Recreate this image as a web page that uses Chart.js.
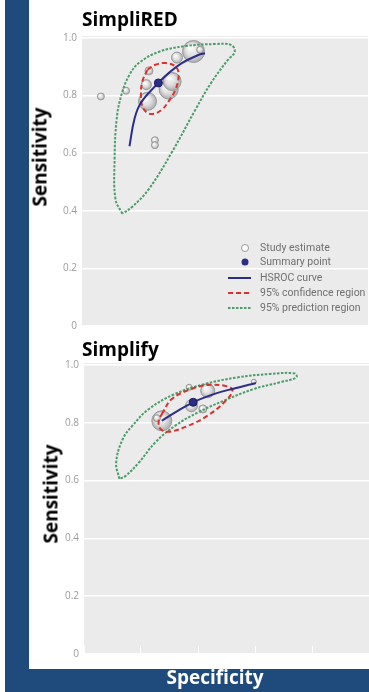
<!DOCTYPE html>
<html>
<head>
<meta charset="utf-8">
<script src="https://cdn.jsdelivr.net/npm/chart.js@4.4.1/dist/chart.umd.min.js"></script>
<style>
html,body{margin:0;padding:0;background:#fff;width:369px;height:692px;overflow:hidden;position:relative;font-family:"Open Sans",sans-serif}
.blue{position:absolute;background:#1f4a7c}
.lbl{position:absolute;font-weight:bold;font-size:19px;line-height:19px;white-space:nowrap;color:#000}
.rot{transform:translate(-50%,-50%) rotate(-90deg)}
canvas{position:absolute}
</style>
</head>
<body>
<div class="blue" style="left:5px;top:0;width:24px;height:692px"></div>
<div class="blue" style="left:5px;top:669px;width:364px;height:23px"></div>
<canvas id="topChart" width="351" height="338" style="left:29px;top:0"></canvas>
<canvas id="bottomChart" width="351" height="335" style="left:29px;top:330px"></canvas>
<div class="lbl" style="left:82px;top:10px">SimpliRED</div>
<div class="lbl" style="left:82px;top:340px">Simplify</div>
<div class="lbl rot" style="left:39.5px;top:156.5px">Sensitivity</div>
<div class="lbl rot" style="left:50.5px;top:494px">Sensitivity</div>
<div class="lbl" style="left:215px;top:668px;color:#fff;transform:translateX(-50%)">Specificity</div>
<script>
// SimpliRED - study estimates (specificity, sensitivity, weight)
const redStudySpec=[0.934,0.846,0.766,0.775,0.771,0.745,0.745,0.697,0.685,0.668,0.610,0.587];
const redStudySens=[0.797,0.817,0.886,0.838,0.780,0.645,0.628,0.821,0.849,0.932,0.953,0.959];
const redStudyWeight=[3.5,3.5,4,5,9,3.5,3.5,9.5,9,5.5,11,3.5];
const redSummary=[0.733,0.844];
const redCurveSpec=[0.834,0.817,0.794,0.733,0.697,0.651,0.593,0.570];
const redCurveSens=[0.624,0.717,0.775,0.844,0.878,0.913,0.941,0.947];
const redConfSpec=[0.771,0.743,0.708,0.673,0.662,0.673,0.697,0.720,0.748,0.771,0.789,0.794,0.789];
const redConfSens=[0.890,0.907,0.913,0.901,0.872,0.821,0.780,0.752,0.737,0.740,0.763,0.803,0.849];
const redPredSpec=[0.859,0.883,0.886,0.879,0.862,0.834,0.800,0.731,0.638,0.534,0.479,0.466,0.490,0.548,0.603,0.686,0.766,0.824];
const redPredSens=[0.390,0.441,0.579,0.717,0.803,0.872,0.914,0.952,0.972,0.979,0.976,0.952,0.924,0.845,0.752,0.603,0.476,0.414];

// Simplify
const fyStudySpec=[0.727,0.744,0.631,0.566,0.623,0.583,0.404];
const fyStudySens=[0.807,0.816,0.923,0.911,0.859,0.848,0.942];
const fyStudyWeight=[10,3.5,3,7,6,4,2.5];
const fySummary=[0.617,0.871];
const fyCurveSpec=[0.727,0.680,0.617,0.542,0.473,0.397];
const fyCurveSens=[0.807,0.836,0.871,0.900,0.919,0.938];
const fyConfSpec=[0.727,0.692,0.623,0.566,0.497,0.479,0.508,0.566,0.634,0.703,0.732,0.738];
const fyConfSens=[0.830,0.882,0.917,0.931,0.926,0.911,0.871,0.825,0.790,0.769,0.779,0.807];
const fyPredSpec=[0.876,0.887,0.864,0.830,0.772,0.680,0.577,0.462,0.347,0.261,0.255,0.313,0.404,0.508,0.600,0.680,0.749,0.807,0.853];
const fyPredSens=[0.606,0.663,0.744,0.790,0.848,0.900,0.934,0.957,0.969,0.971,0.957,0.940,0.917,0.877,0.836,0.790,0.733,0.663,0.617];

const yTicks=[0,0.2,0.4,0.6,0.8,1];
const legendLabels=["Study estimate","Summary point","HSROC curve","95% confidence region","95% prediction region"];

const NAVY="#2b2d86",RED="#d8312e",GREEN="#4a9c68";

const pts=(xs,ys)=>xs.map((x,i)=>({x:x,y:ys[i]}));
const loop=(xs,ys)=>{const p=pts(xs,ys);p.push(p[0]);return p;};

function ball(c){
  const ch=c.chart;
  if(c.type!=="data"||!c.raw||!ch.scales.x) return "rgba(220,220,220,0.85)";
  const x=ch.scales.x.getPixelForValue(c.raw.x),y=ch.scales.y.getPixelForValue(c.raw.y),r=c.raw.r||4;
  if(!isFinite(x)||!isFinite(y)) return "rgba(220,220,220,0.85)";
  const g=ch.ctx.createRadialGradient(x-r*0.35,y-r*0.4,r*0.05,x,y,r);
  g.addColorStop(0,"rgba(255,255,255,0.95)");
  g.addColorStop(0.55,"rgba(222,222,222,0.88)");
  g.addColorStop(1,"rgba(165,165,165,0.9)");
  return g;
}

const plotBg={id:"plotBg",beforeDraw(chart){
  const {ctx,chartArea:a}=chart;
  ctx.save();ctx.fillStyle="#ebebeb";ctx.fillRect(a.left,a.top-2,a.right-a.left,a.bottom-a.top+2);ctx.restore();
}};

const boxLegend={id:"boxLegend",afterDatasetsDraw(chart){
  if(!chart.options.plugins.boxLegend.show) return;
  const {ctx,chartArea:a}=chart;
  const rows=[210,224,240,255,270].map(v=>a.top+v);
  const mx=a.left+163,lx0=a.left+146,lx1=a.left+169,tx=a.left+178;
  ctx.save();
  // study marker
  ctx.beginPath();ctx.arc(mx,rows[0],3.5,0,Math.PI*2);ctx.fillStyle="#fff";ctx.fill();ctx.strokeStyle="#999";ctx.lineWidth=1;ctx.stroke();
  // summary marker
  ctx.beginPath();ctx.arc(mx,rows[1],3.5,0,Math.PI*2);ctx.fillStyle=NAVY;ctx.fill();
  const seg=(y,col,dash)=>{ctx.beginPath();ctx.setLineDash(dash);ctx.strokeStyle=col;ctx.lineWidth=2;ctx.moveTo(lx0,y);ctx.lineTo(lx1,y);ctx.stroke();};
  seg(rows[2],NAVY,[]);
  seg(rows[3],RED,[5,3]);
  seg(rows[4],GREEN,[2.5,1.5]);
  ctx.setLineDash([]);
  ctx.fillStyle="#707070";ctx.font="10.5px Roboto";ctx.textBaseline="middle";ctx.textAlign="left";
  legendLabels.forEach((t,i)=>ctx.fillText(t,tx,rows[i]));
  ctx.restore();
}};

function makeChart(id,d,lay){
  return new Chart(document.getElementById(id),{
    type:"scatter",
    data:{datasets:[
      {type:"bubble",data:d.spec.map((x,i)=>({x:x,y:d.sens[i],r:d.weight[i]})),backgroundColor:ball,borderColor:"#9a9a9a",borderWidth:1,order:4},
      {data:loop(d.predSpec,d.predSens),showLine:true,pointRadius:0,borderColor:GREEN,borderWidth:2,borderDash:[2.5,1.5],tension:0.4,order:3},
      {data:loop(d.confSpec,d.confSens),showLine:true,pointRadius:0,borderColor:RED,borderWidth:2,borderDash:[5,3],tension:0.4,order:2},
      {data:pts(d.curveSpec,d.curveSens),showLine:true,pointRadius:0,borderColor:NAVY,borderWidth:2,tension:0.4,order:1},
      {data:[{x:d.summary[0],y:d.summary[1]}],pointRadius:4,backgroundColor:NAVY,borderColor:"#1c1d60",borderWidth:1,order:0}
    ]},
    options:{
      responsive:false,animation:false,events:[],
      layout:{padding:{left:0,top:lay.top,right:lay.right,bottom:lay.bottom}},
      plugins:{legend:{display:false},tooltip:{enabled:false},boxLegend:{show:lay.legend}},
      scales:{
        x:{type:"linear",min:0,max:1,reverse:true,afterFit(s){s.height=0;},
          border:{display:false},
          grid:{drawOnChartArea:false,drawTicks:lay.xticks,tickLength:-8,color:"#fff",lineWidth:1},
          ticks:{display:false,stepSize:0.2}},
        y:{min:0,max:1,afterFit(s){s.width=lay.yw;},
          afterBuildTicks(s){s.ticks=yTicks.map(v=>({value:v}));},
          border:{display:false},
          grid:{color:"#fff",lineWidth:1.5,drawTicks:false},
          ticks:{padding:5,color:"#9b9b9b",font:{family:"Open Sans",size:10},
            callback:v=>v===0?"0":v.toFixed(1)}}
      }
    },
    plugins:[plotBg,boxLegend]
  });
}

makeChart("topChart",{spec:redStudySpec,sens:redStudySens,weight:redStudyWeight,summary:redSummary,
  curveSpec:redCurveSpec,curveSens:redCurveSens,confSpec:redConfSpec,confSens:redConfSens,predSpec:redPredSpec,predSens:redPredSens},
  {top:38,right:8,bottom:10,yw:53,legend:true,xticks:false});
makeChart("bottomChart",{spec:fyStudySpec,sens:fyStudySens,weight:fyStudyWeight,summary:fySummary,
  curveSpec:fyCurveSpec,curveSens:fyCurveSens,confSpec:fyConfSpec,confSens:fyConfSens,predSpec:fyPredSpec,predSens:fyPredSens},
  {top:35,right:6,bottom:10,yw:55,legend:false,xticks:true});
</script>
</body>
</html>
